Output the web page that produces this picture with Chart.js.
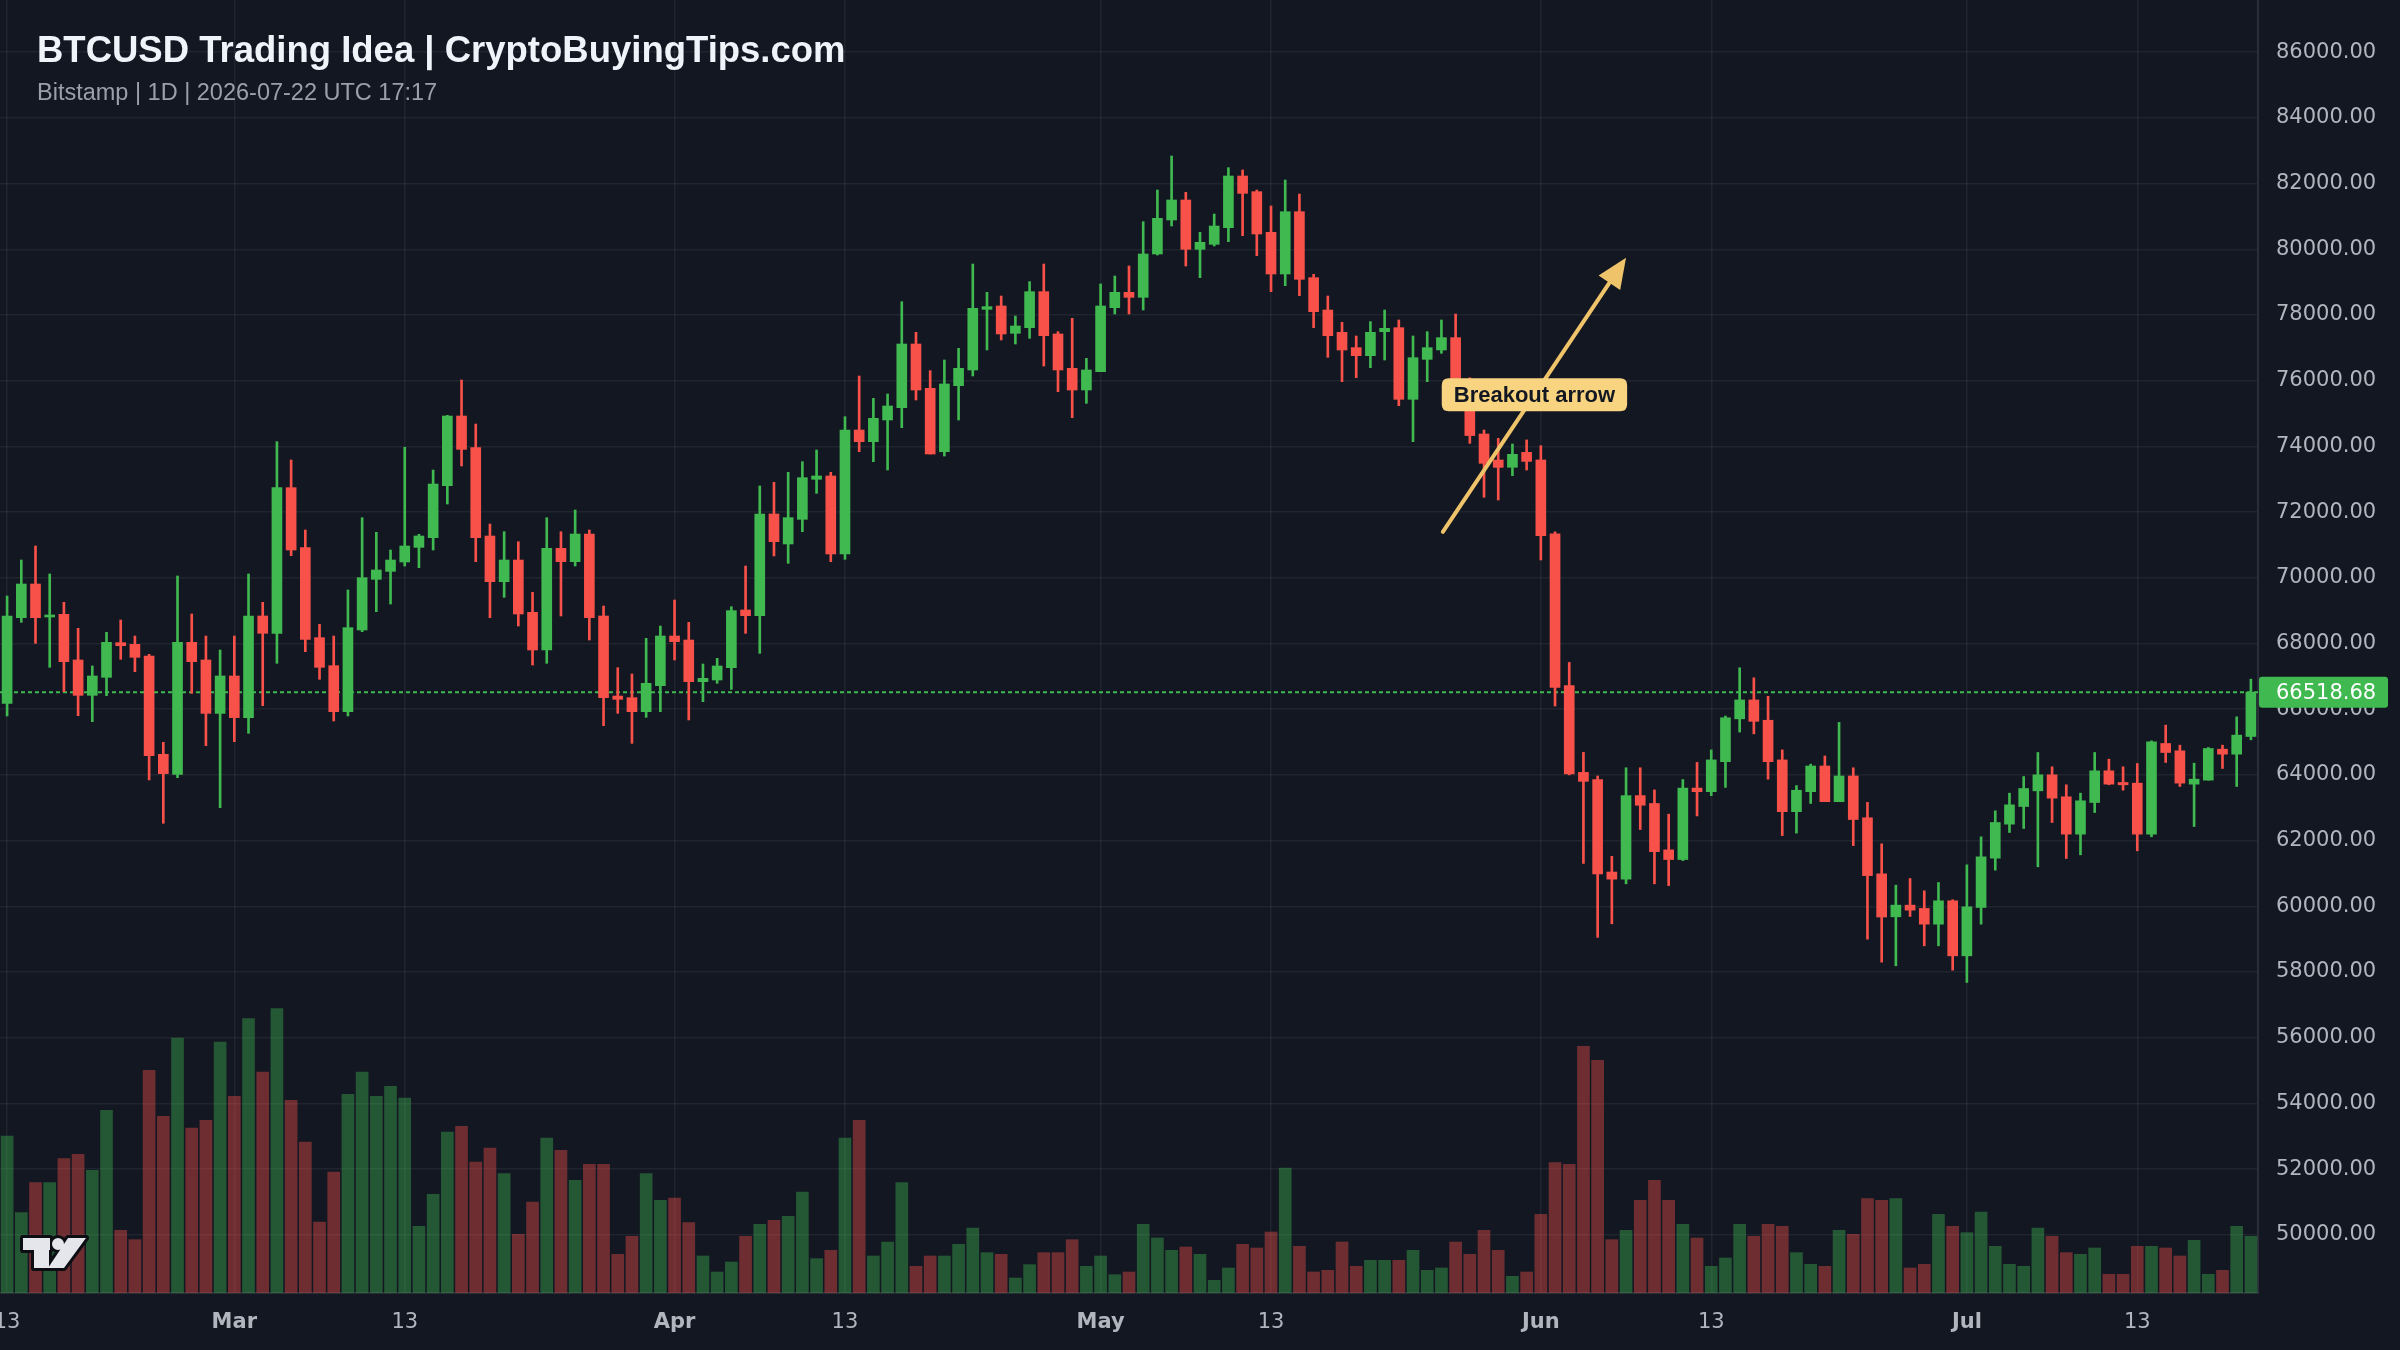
<!DOCTYPE html>
<html>
<head>
<meta charset="utf-8">
<title>BTCUSD Trading Idea</title>
<script src="https://cdn.jsdelivr.net/npm/chart.js@4.4.1/dist/chart.umd.min.js"></script>
<style>
  html, body { margin: 0; padding: 0; background: #131722; }
  canvas { display: block; }
</style>
</head>
<body>
<canvas id="chart" width="2400" height="1350"></canvas>
<script>
// daily candles, Bitstamp BTCUSD, first candle 2026-02-13
const startDay = '2026-02-13';

const opens = [
  66179, 68786, 69811, 68807, 68888, 67498, 66422, 66970, 68025, 67975,
  67620, 64626, 64017, 68035, 67498, 65872, 67011, 65743, 68837, 68310,
  72744, 70917, 68178, 67325, 65925, 68411, 69953, 70196, 70481, 70927,
  71221, 72804, 74925, 73961, 71272, 69882, 70541, 68948, 67802, 70896,
  70491, 71333, 68837, 66401, 66351, 65925, 66716, 68228, 68106, 66838,
  66889, 67264, 69020, 68847, 71942, 71029, 71780, 72998, 73099, 70725,
  74499, 74144, 74804, 75179, 77117, 75768, 73840, 75849, 76326, 78172,
  78274, 77442, 77614, 78710, 77422, 76376, 75717, 76275, 78223, 78690,
  78538, 79857, 80892, 81501, 79999, 80151, 80658, 82231, 81754, 80516,
  79248, 81145, 79136, 78152, 77472, 77006, 76762, 77493, 77614, 75433,
  76650, 76935, 77310, 75800, 74377, 73586, 73363, 73819, 73587, 71337,
  66717, 64076, 63858, 61043, 60826, 63369, 63130, 61717, 61424, 63598,
  63489, 64402, 65706, 66282, 65663, 64456, 62880, 63489, 64271, 63185,
  63967, 62695, 60988, 59680, 60035, 59934, 59456, 60167, 58492, 59964,
  61465, 62500, 63038, 63515, 64002, 63333, 62196, 63160, 64124, 63769,
  63749, 62196, 64956, 64733, 63718, 63840, 64783, 64631, 65169
];
const highs = [
  69446, 70542, 70968, 70116, 69253, 68462, 67315, 68340, 68715, 68228,
  67670, 64992, 70055, 68898, 68228, 67802, 68228, 70116, 69253, 74144,
  73586, 71455, 68584, 68228, 69629, 71830, 71384, 70846, 73971, 71323,
  73281, 74945, 76021, 74681, 71637, 71404, 71099, 69557, 71830, 71404,
  72064, 71455, 69141, 67264, 67071, 68157, 68532, 69324, 68644, 67376,
  67548, 69121, 70359, 72795, 72906, 73211, 73535, 73890, 73211, 74905,
  76143, 75463, 75595, 78406, 77472, 76305, 76630, 76985, 79552, 78690,
  78578, 77969, 79015, 79552, 77493, 77898, 76681, 78944, 79187, 79492,
  80841, 81805, 82840, 81734, 80516, 81074, 82485, 82414, 81805, 81318,
  82109, 81683, 79238, 78578, 77777, 77361, 77797, 78152, 77848, 77361,
  77493, 77848, 78030, 76090, 74499, 74246, 74073, 74196, 74022, 71400,
  67424, 64685, 63967, 61521, 64217, 64217, 63543, 62804, 63858, 64380,
  64761, 65793, 67261, 66956, 66391, 64761, 63674, 64326, 64576, 65598,
  64217, 63163, 61902, 60643, 60846, 60471, 60724, 60200, 61262, 62115,
  62906, 63444, 63951, 64682, 64246, 63698, 63444, 64682, 64479, 64246,
  64347, 65037, 65514, 64905, 64357, 64834, 64905, 65768, 66914
];
const lows = [
  65793, 68644, 68005, 67275, 66534, 65803, 65620, 66412, 67518, 67143,
  63845, 62526, 63916, 66483, 64890, 63002, 65012, 65266, 66108, 67397,
  70674, 67751, 66909, 65641, 65793, 68360, 68969, 69202, 70359, 70308,
  70846, 72246, 73403, 70491, 68786, 69405, 68532, 67345, 67396, 68837,
  70359, 68106, 65498, 65874, 64961, 65752, 65925, 67497, 65671, 66229,
  66787, 66604, 68309, 67700, 70664, 70440, 71404, 72571, 70491, 70562,
  73840, 73535, 73282, 74570, 75412, 73769, 73707, 74804, 76143, 76935,
  77239, 77117, 77290, 76447, 75666, 74875, 75311, 76275, 78030, 78030,
  78152, 79826, 80709, 79491, 79136, 80100, 80232, 80415, 79806, 78710,
  78893, 78588, 77614, 76711, 75970, 76092, 76397, 76630, 75240, 74144,
  75970, 76833, 75600, 74093, 72450, 72368, 73109, 73281, 70543, 66097,
  64000, 61304, 59054, 59467, 60684, 62337, 60684, 60630, 61391, 62750,
  63369, 63620, 65304, 65250, 63869, 62152, 62228, 63130, 63185, 63185,
  61847, 58999, 58300, 58188, 59690, 58797, 58797, 58056, 57680, 59456,
  61100, 62247, 62368, 61202, 62551, 61455, 61567, 62855, 63700, 63535,
  61689, 62115, 64378, 63647, 62429, 63840, 64195, 63647, 65068
];
const closes = [
  68837, 69811, 68786, 68857, 67447, 66422, 67011, 68035, 67934, 67579,
  64586, 64037, 68035, 67447, 65872, 67011, 65743, 68837, 68310, 72744,
  70846, 68127, 67275, 65925, 68482, 70004, 70238, 70541, 70968, 71272,
  72855, 74925, 73910, 71221, 69882, 70541, 68898, 67802, 70896, 70491,
  71333, 68786, 66351, 66300, 65925, 66787, 68228, 68055, 66838, 66939,
  67315, 69000, 68847, 71942, 71100, 71831, 73048, 73099, 70725, 74499,
  74144, 74854, 75230, 77117, 75717, 73769, 75900, 76376, 78203, 78254,
  77422, 77665, 78710, 77371, 76326, 75717, 76326, 78274, 78690, 78538,
  79857, 80942, 81501, 79999, 80212, 80709, 82231, 81703, 80466, 79248,
  81145, 79086, 78101, 77371, 76935, 76762, 77472, 77594, 75433, 76701,
  77006, 77310, 75850, 74330, 73485, 73363, 73758, 73543, 71283, 66663,
  64032, 63804, 60988, 60826, 63369, 63076, 61663, 61424, 63598, 63489,
  64456, 65739, 66282, 65630, 64402, 62880, 63532, 64271, 63185, 63967,
  62641, 60934, 59673, 60035, 59883, 59456, 60167, 58492, 59984, 61506,
  62551, 63089, 63586, 64002, 63292, 62196, 63211, 64124, 63718, 63698,
  62196, 65007, 64682, 63749, 63870, 64804, 64631, 65210, 66518.68
];
const volumes = [
  4710, 2410, 3310, 3310, 4030, 4160, 3680, 5480, 1880, 1600,
  6680, 5300, 7650, 4950, 5180, 7530, 5900, 8230, 6630, 8530,
  5780, 4530, 2130, 3630, 5960, 6630, 5900, 6200, 5850, 2000,
  2960, 4830, 5000, 3930, 4350, 3580, 1760, 2730, 4650, 4280,
  3380, 3860, 3860, 1160, 1700, 3580, 2780, 2850, 2110, 1110,
  630, 930, 1700, 2060, 2180, 2300, 3030, 1030, 1280, 4650,
  5180, 1110, 1530, 3310, 800, 1110, 1110, 1460, 1950, 1210,
  1160, 450, 850, 1210, 1210, 1600, 800, 1110, 550, 630,
  2060, 1650, 1280, 1380, 1160, 380, 750, 1460, 1350, 1830,
  3750, 1400, 630, 680, 1530, 800, 980, 980, 980, 1280,
  680, 750, 1530, 1160, 1880, 1280, 500, 630, 2360, 3910,
  3860, 7400, 6980, 1600, 1880, 2780, 3380, 2780, 2060, 1650,
  800, 1050, 2060, 1700, 2060, 2000, 1210, 860, 800, 1880,
  1760, 2830, 2780, 2830, 750, 860, 2360, 2000, 1810, 2430,
  1400, 860, 800, 1950, 1700, 1210, 1160, 1350, 560, 560,
  1400, 1400, 1350, 1110, 1580, 560, 680, 2000, 1700
];

// x axis labels
const tickDates = ['2026-02-13', '2026-03-01', '2026-03-13', '2026-04-01', '2026-04-13', '2026-05-01',
                   '2026-05-13', '2026-06-01', '2026-06-13', '2026-07-01', '2026-07-13'];
const tickLabels = ['13', 'Mar', '13', 'Apr', '13', 'May', '13', 'Jun', '13', 'Jul', '13'];
// y axis labels
const priceTicks = [50000, 52000, 54000, 56000, 58000, 60000, 62000, 64000, 66000, 68000,
                    70000, 72000, 74000, 76000, 78000, 80000, 82000, 84000, 86000];

// annotation: [candle index, price]
const arrowFrom = [101.1, 71400];
const arrowTo = [114.0, 79740];
const arrowText = 'Breakout arrow';

const titleText = 'BTCUSD Trading Idea | CryptoBuyingTips.com';
const subtitleText = 'Bitstamp | 1D | 2026-07-22 UTC 17:17';

const BG = '#131722';
const UP = '#3fb950';
const DOWN = '#f85149';
const UP_VOL = 'rgba(63, 185, 80, 0.4)';
const DOWN_VOL = 'rgba(248, 81, 73, 0.4)';
const GRID = 'rgba(255, 255, 255, 0.06)';
const AXIS_TEXT = '#b2b5be';
const AXIS_FONT = '"DejaVu Sans", Verdana, sans-serif';
const TEXT_FONT = '"Liberation Sans", Arial, Helvetica, sans-serif';
const ARROW_COLOR = '#efc36a';

const dates = [];
const t0 = Date.parse(startDay + 'T00:00:00Z');
for (let i = 0; i < closes.length; i++) {
  dates.push(new Date(t0 + i * 86400000).toISOString().slice(0, 10));
}
const labelAt = dates.map(d => {
  const k = tickDates.indexOf(d);
  return k < 0 ? '' : tickLabels[k];
});
const isUp = closes.map((c, i) => c >= opens[i]);
const lastPrice = closes[closes.length - 1];

function roundRect(ctx, x, y, w, h, r) {
  ctx.beginPath();
  ctx.moveTo(x + r, y);
  ctx.lineTo(x + w - r, y);
  ctx.quadraticCurveTo(x + w, y, x + w, y + r);
  ctx.lineTo(x + w, y + h - r);
  ctx.quadraticCurveTo(x + w, y + h, x + w - r, y + h);
  ctx.lineTo(x + r, y + h);
  ctx.quadraticCurveTo(x, y + h, x, y + h - r);
  ctx.lineTo(x, y + r);
  ctx.quadraticCurveTo(x, y, x + r, y);
  ctx.closePath();
}

const background = {
  id: 'background',
  beforeDraw(chart) {
    const c = chart.ctx;
    c.save();
    c.fillStyle = BG;
    c.fillRect(0, 0, chart.width, chart.height);
    c.restore();
  }
};

const overlays = {
  id: 'overlays',
  beforeDatasetsDraw(chart) {
    // last price dotted line
    const { ctx, chartArea, scales } = chart;
    const y = scales.y.getPixelForValue(lastPrice);
    ctx.save();
    ctx.strokeStyle = UP;
    ctx.lineWidth = 2;
    ctx.setLineDash([4, 3]);
    ctx.beginPath();
    ctx.moveTo(chartArea.left, y);
    ctx.lineTo(chartArea.right, y);
    ctx.stroke();
    ctx.restore();
  },
  afterDatasetsDraw(chart) {
    const { ctx, chartArea, scales } = chart;
    // breakout arrow
    const x0 = scales.x.getPixelForValue(arrowFrom[0]);
    const y0 = scales.y.getPixelForValue(arrowFrom[1]);
    const x1 = scales.x.getPixelForValue(arrowTo[0]);
    const y1 = scales.y.getPixelForValue(arrowTo[1]);
    const ang = Math.atan2(y1 - y0, x1 - x0);
    const headLen = 30, headW = 13;
    const bx = x1 - headLen * Math.cos(ang);
    const by = y1 - headLen * Math.sin(ang);
    ctx.save();
    ctx.strokeStyle = ARROW_COLOR;
    ctx.fillStyle = ARROW_COLOR;
    ctx.lineWidth = 4;
    ctx.lineCap = 'round';
    ctx.beginPath();
    ctx.moveTo(x0, y0);
    ctx.lineTo(bx, by);
    ctx.stroke();
    ctx.beginPath();
    ctx.moveTo(x1, y1);
    ctx.lineTo(bx + headW * Math.sin(ang), by - headW * Math.cos(ang));
    ctx.lineTo(bx - headW * Math.sin(ang), by + headW * Math.cos(ang));
    ctx.closePath();
    ctx.fill();

    // label at the middle of the arrow
    ctx.font = 'bold 22px ' + TEXT_FONT;
    const tw = ctx.measureText(arrowText).width;
    const mx = (x0 + x1) / 2, my = (y0 + y1) / 2;
    const bw = tw + 24, bh = 33;
    ctx.fillStyle = '#f8d481';
    roundRect(ctx, mx - bw / 2, my - bh / 2, bw, bh, 7);
    ctx.fill();
    ctx.fillStyle = '#131722';
    ctx.textAlign = 'center';
    ctx.textBaseline = 'middle';
    ctx.fillText(arrowText, mx, my + 1);
    ctx.restore();

    // TradingView mark, bottom left
    const lx = chartArea.left + 23, ly = chartArea.bottom - 55;
    const p = new Path2D();
    p.rect(lx, ly, 27, 12);
    p.rect(lx + 11, ly, 15, 30);
    p.moveTo(lx + 41, ly + 6);
    p.arc(lx + 35, ly + 6, 6, 0, Math.PI * 2);
    p.moveTo(lx + 45, ly);
    p.lineTo(lx + 63, ly);
    p.lineTo(lx + 41, ly + 30);
    p.lineTo(lx + 25, ly + 30);
    p.closePath();
    ctx.save();
    ctx.lineJoin = 'round';
    ctx.lineWidth = 6;
    ctx.strokeStyle = '#0c0e13';
    ctx.stroke(p);
    ctx.fillStyle = '#e4e6ec';
    ctx.fill(p);
    ctx.restore();
  },
  afterDraw(chart) {
    const { ctx, chartArea, scales } = chart;
    // last price tag on the axis
    const y = scales.y.getPixelForValue(lastPrice);
    ctx.save();
    ctx.fillStyle = UP;
    roundRect(ctx, chartArea.right + 1, y - 15.5, 129, 31, 3);
    ctx.fill();
    ctx.fillStyle = '#ffffff';
    ctx.font = '21px ' + AXIS_FONT;
    ctx.textBaseline = 'middle';
    ctx.fillText(lastPrice.toFixed(2), chartArea.right + 18, y + 1);

    // title block
    ctx.fillStyle = '#f0f3fa';
    ctx.font = 'bold 36.5px ' + TEXT_FONT;
    ctx.textBaseline = 'alphabetic';
    ctx.fillText(titleText, 37, 62);
    ctx.fillStyle = '#9aa0ab';
    ctx.font = '23.5px ' + TEXT_FONT;
    ctx.fillText(subtitleText, 37, 100);
    ctx.restore();
  }
};

const ctx = document.getElementById('chart').getContext('2d');
new Chart(ctx, {
  type: 'bar',
  data: {
    labels: dates,
    datasets: [
      {
        label: 'Volume',
        data: volumes,
        yAxisID: 'yVol',
        backgroundColor: isUp.map(u => (u ? UP_VOL : DOWN_VOL)),
        barThickness: 12,
        grouped: false,
        order: 3
      },
      {
        label: 'Wick',
        data: lows.map((l, i) => [l, highs[i]]),
        yAxisID: 'y',
        backgroundColor: isUp.map(u => (u ? UP : DOWN)),
        barThickness: 2,
        grouped: false,
        order: 2
      },
      {
        label: 'Body',
        data: opens.map((o, i) => [o, closes[i]]),
        yAxisID: 'y',
        backgroundColor: isUp.map(u => (u ? UP : DOWN)),
        barThickness: 10,
        minBarLength: 2,
        grouped: false,
        order: 1
      }
    ]
  },
  options: {
    responsive: false,
    animation: false,
    layout: { padding: 0 },
    plugins: {
      legend: { display: false },
      tooltip: { enabled: false },
      title: { display: false }
    },
    scales: {
      x: {
        type: 'category',
        offset: true,
        grid: {
          offset: false,
          drawTicks: false,
          lineWidth: 1.5,
          color: c => (labelAt[c.index] ? GRID : 'rgba(0,0,0,0)')
        },
        border: { display: true, color: '#2a2e39', width: 2 },
        ticks: {
          autoSkip: false,
          maxRotation: 0,
          minRotation: 0,
          padding: 17,
          color: AXIS_TEXT,
          font: c => ({
            family: AXIS_FONT,
            size: 21,
            weight: /^[A-Z]/.test(labelAt[c.index] || '') ? 'bold' : 'normal'
          }),
          callback: (v, i) => labelAt[i]
        },
        afterFit: s => {
          s.height = 57;
          s.paddingLeft = 0;
          s.paddingRight = 0;
        }
      },
      y: {
        position: 'right',
        min: 48228,
        max: 87589,
        afterBuildTicks: s => {
          s.ticks = priceTicks.map(v => ({ value: v }));
        },
        grid: { color: GRID, lineWidth: 1.5, drawTicks: false },
        border: { display: true, color: '#2a2e39', width: 2 },
        ticks: {
          padding: 18,
          color: AXIS_TEXT,
          font: { family: AXIS_FONT, size: 21 },
          callback: v => Number(v).toFixed(2)
        },
        afterFit: s => {
          s.width = 142;
          s.paddingTop = 0;
          s.paddingBottom = 0;
        }
      },
      yVol: {
        display: false,
        min: 0,
        max: 38790,
        afterFit: s => {
          s.paddingTop = 0;
          s.paddingBottom = 0;
        }
      }
    }
  },
  plugins: [background, overlays]
});
</script>
</body>
</html>
